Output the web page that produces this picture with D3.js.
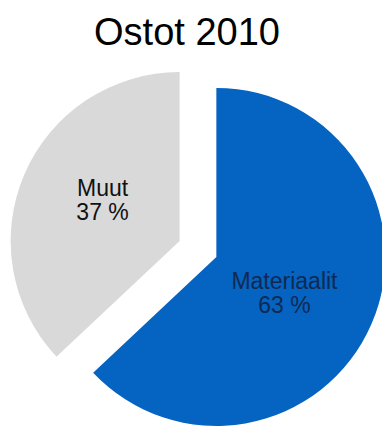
<!DOCTYPE html>
<html>
<head>
<meta charset="utf-8">
<script src="https://cdn.jsdelivr.net/npm/d3@7"></script>
<style>
  body { margin: 0; background: #fff; }
  svg { display: block; font-family: "Liberation Sans", Arial, sans-serif; }
</style>
</head>
<body>
<div id="chart"></div>
<script>
var width = 382,
    height = 429;

// data
var categories = ["Materiaalit", "Muut"],
    shares = [63, 37],
    colors = ["#0563c1", "#d9d9d9"],
    labelColors = ["#0f2a52", "#111111"];

var svg = d3.select("#chart").append("svg")
            .attr("width", width)
            .attr("height", height);

svg.append("text")
   .attr("x", 187)
   .attr("y", 45)
   .attr("text-anchor", "middle")
   .style("font-size", "38px")
   .style("fill", "#000")
   .text("Ostot 2010");

// pie centre, radius and how far slices are pulled out
var cx = 198, cy = 249,
    radius = 169,
    explode = 20,
    labelR = 84;

var pie = d3.pie().sort(null).value(function(d) { return d; });
var arc = d3.arc().innerRadius(0).outerRadius(radius);
var slices = pie(shares);

var g = svg.append("g")
           .attr("transform", "translate(" + cx + "," + cy + ")");

function mid(d) { return (d.startAngle + d.endAngle) / 2; }

var sg = g.selectAll("g.slice")
          .data(slices)
          .enter()
          .append("g")
          .attr("class", "slice")
          .attr("transform", function(d) {
            var a = mid(d);
            return "translate(" + (Math.sin(a) * explode) + "," + (-Math.cos(a) * explode) + ")";
          });

sg.append("path")
  .attr("d", arc)
  .style("fill", function(d, i) { return colors[i]; });

// small nudge so the big slice label sits where the original put it
var nudge = [[-9, 11], [0, 0]];

var lbl = sg.append("text")
            .attr("text-anchor", "middle")
            .style("font-size", "23px")
            .style("fill", function(d, i) { return labelColors[i]; })
            .attr("transform", function(d, i) {
              var a = mid(d);
              return "translate(" + (Math.sin(a) * labelR + nudge[i][0]) + "," +
                     (-Math.cos(a) * labelR + nudge[i][1]) + ")";
            });

lbl.append("tspan")
   .attr("x", 0)
   .attr("y", -12)
   .text(function(d, i) { return categories[i]; });

lbl.append("tspan")
   .attr("x", 0)
   .attr("y", 12)
   .text(function(d, i) { return shares[i] + " %"; });
</script>
</body>
</html>
